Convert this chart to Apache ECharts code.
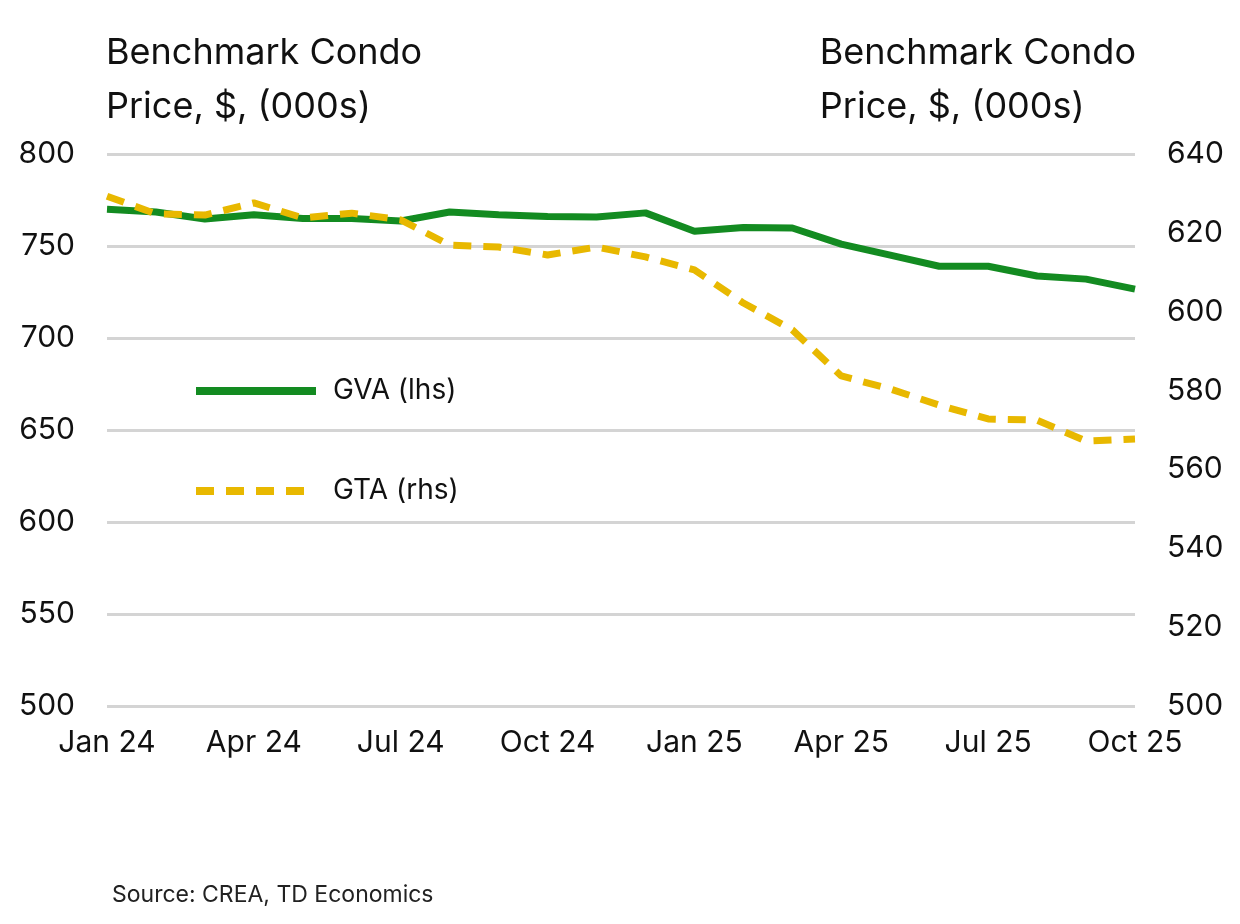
<!DOCTYPE html>
<html>
<head>
<meta charset="utf-8">
<script src="https://cdn.jsdelivr.net/npm/echarts@6/dist/echarts.min.js"></script>
<style>html,body{margin:0;background:#fff}#chart{width:1240px;height:924px}</style>
</head>
<body>
<div id="chart"></div>
<script>
var months = ['Jan 24','Feb 24','Mar 24','Apr 24','May 24','Jun 24','Jul 24','Aug 24','Sep 24','Oct 24','Nov 24','Dec 24',
  'Jan 25','Feb 25','Mar 25','Apr 25','May 25','Jun 25','Jul 25','Aug 25','Sep 25','Oct 25'];
var gva = [770,768.5,764.7,767,765,765,763.6,768.5,767,766,765.8,768,758,760,759.8,751,745,739,739,733.7,732,726.6];
var gta = [629.3,624.8,624.5,627.6,623.8,625,623.3,616.9,616.4,614.4,616.4,613.9,610.6,602.2,595.4,583.7,580.4,576.3,572.8,572.5,567.2,567.7];

var font = 'Inter, "Noto Sans", sans-serif';
var titleStyle = {fontSize: 36, fill: '#111', fontFamily: font, lineHeight: 54};
var chart = echarts.init(document.getElementById('chart'));
chart.setOption({
  textStyle: {fontFamily: font},
  graphic: [
    {type: 'text', left: 106, top: 26, style: Object.assign({text: 'Benchmark Condo\nPrice, $, (000s)', align: 'left'}, titleStyle)},
    {type: 'text', right: 104, top: 26, style: Object.assign({text: 'Benchmark Condo\nPrice, $, (000s)', align: 'right'}, titleStyle)},
    {type: 'text', left: 112, top: 884, style: {text: 'Source: CREA, TD Economics', fontSize: 23, fill: '#222', fontFamily: font}}
  ],
  legend: {
    orient: 'vertical', left: 187, top: 372, itemWidth: 120, itemHeight: 20, itemGap: 72,
    itemStyle: {opacity: 0},
    lineStyle: {width: 8},
    textStyle: {fontSize: 28, color: '#111', fontFamily: font, padding: [0, 0, 0, 12]},
    data: ['GVA (lhs)', 'GTA (rhs)']
  },
  grid: {left: 107, right: 105, top: 154, bottom: 218, containLabel: false, outerBoundsMode: 'none'},
  xAxis: {
    type: 'category', data: months, boundaryGap: false,
    axisLine: {show: false}, axisTick: {show: false},
    axisLabel: {interval: 2, fontSize: 30, color: '#111', margin: 22, fontFamily: font}
  },
  yAxis: [
    {type: 'value', min: 500, max: 800, interval: 50,
     axisLabel: {fontSize: 30, color: '#111', margin: 32, fontFamily: font},
     splitLine: {lineStyle: {color: '#d4d4d4', width: 3}}},
    {type: 'value', min: 500, max: 640, interval: 20,
     axisLabel: {fontSize: 30, color: '#111', margin: 32, fontFamily: font},
     splitLine: {show: false}}
  ],
  series: [
    {name: 'GVA (lhs)', type: 'line', data: gva, yAxisIndex: 0, symbol: 'none',
     lineStyle: {color: '#138b21', width: 7}, itemStyle: {color: '#138b21'}},
    {name: 'GTA (rhs)', type: 'line', data: gta, yAxisIndex: 1, symbol: 'none',
     lineStyle: {color: '#e8b800', width: 7, type: [18, 12]}, itemStyle: {color: '#e8b800'}}
  ]
});
</script>
</body>
</html>
